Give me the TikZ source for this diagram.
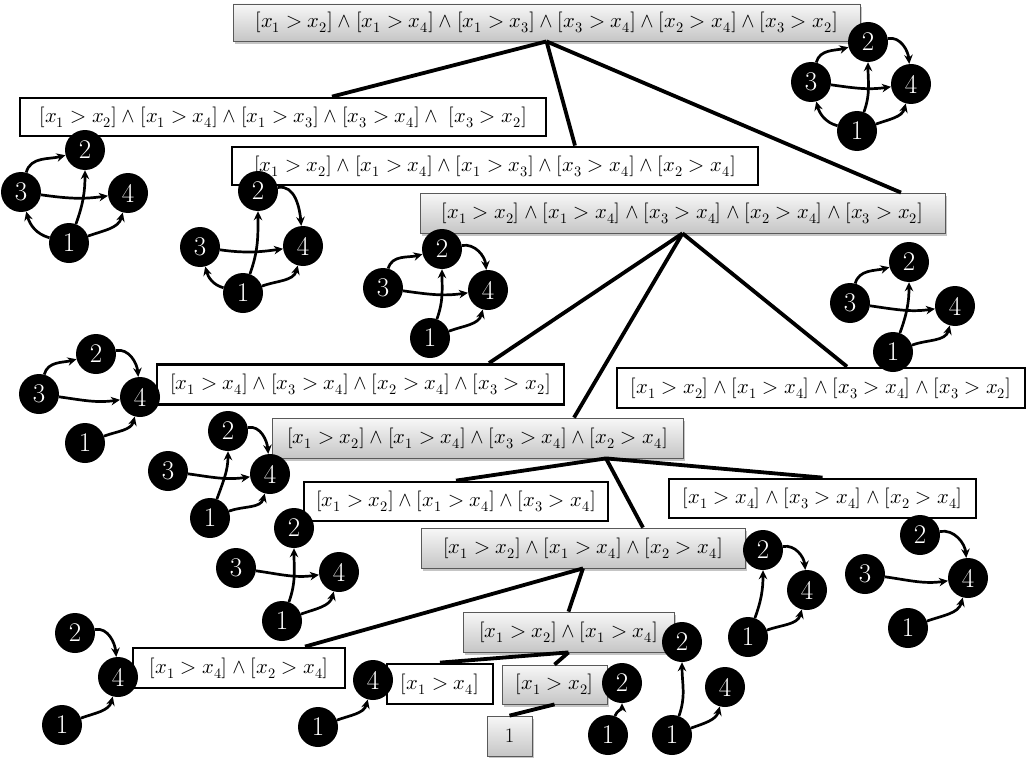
\documentclass[tikz,border=0pt]{standalone}
\usepackage{unicode-math}
\setmathfont{Latin Modern Math}
\usetikzlibrary{arrows.meta,shadows}
\newcommand\cls[2]{[x_{#1}>x_{#2}]}
\newcommand\an{\wedge}
\tikzset{
  bfont/.style={font=\fontsize{20.6}{24}\selectfont},
  wbox/.style={bfont, draw=black, line width=2.8pt, fill=white, inner sep=0pt},
  gbox/.style={bfont, draw=gray!70!black, line width=0.8pt, top color=gray!6, bottom color=gray!45,
               inner sep=0pt, drop shadow={shadow xshift=2pt, shadow yshift=-3pt, opacity=0.45}},
  vx/.style={circle, fill=black, text=white, minimum size=40pt, inner sep=0pt, font=\fontsize{27}{27}\selectfont},
  ar/.style={line width=2.7pt, -{Stealth[length=9pt,width=8.5pt]}},
  conn/.style={line width=3.8pt},
  e32/.style={out=75,in=195},
  e24/.style={out=10,in=95},
  e34/.style={out=-8,in=188},
  e12/.style={out=70,in=-90},
  e13/.style={out=165,in=-75},
  e14/.style={out=20,in=-105}
}
\begin{document}
\begin{tikzpicture}[x=1pt,y=1pt]
\useasboundingbox (0,0) rectangle (1027,-757);
\fill[white] (0,0) rectangle (1027,-757);

% ---------- boxes ----------
\node[gbox, minimum width=627pt, minimum height=37pt] (B0) at (546.5,-22.5) {$\cls12\an\cls14\an\cls13\an\cls34\an\cls24\an\cls32$};
\node[wbox, minimum width=526pt, minimum height=38pt] (B1) at (283,-117) {$\cls12\an\cls14\an\cls13\an\cls34\an\;\cls32$};
\node[wbox, minimum width=526pt, minimum height=38pt] (B2) at (495,-166) {$\cls12\an\cls14\an\cls13\an\cls34\an\cls24$};
\node[gbox, minimum width=525pt, minimum height=40pt] (B3) at (682.5,-213) {$\cls12\an\cls14\an\cls34\an\cls24\an\cls32$};
\node[wbox, minimum width=407pt, minimum height=40pt] (B4) at (360.5,-384.5) {$\cls14\an\cls34\an\cls24\an\cls32$};
\node[wbox, minimum width=408pt, minimum height=40pt] (B5) at (821,-388) {$\cls12\an\cls14\an\cls34\an\cls32$};
\node[gbox, minimum width=411pt, minimum height=40pt] (B6) at (477.5,-438) {$\cls12\an\cls14\an\cls34\an\cls24$};
\node[wbox, minimum width=304pt, minimum height=39pt] (B7) at (456,-501.5) {$\cls12\an\cls14\an\cls34$};
\node[gbox, minimum width=324pt, minimum height=40pt] (B8) at (583,-548) {$\cls12\an\cls14\an\cls24$};
\node[wbox, minimum width=307pt, minimum height=39pt] (B9) at (822.5,-498.5) {$\cls14\an\cls34\an\cls24$};
\node[wbox, minimum width=212pt, minimum height=40pt] (B10) at (239,-668) {$\cls14\an\cls24$};
\node[gbox, minimum width=211pt, minimum height=40pt] (B11) at (568.5,-632) {$\cls12\an\cls14$};
\node[wbox, minimum width=106pt, minimum height=40pt] (B12) at (440,-684) {$\cls14$};
\node[gbox, minimum width=105pt, minimum height=39pt] (B13) at (554.5,-684.5) {$\cls12$};
\node[gbox, minimum width=45pt, minimum height=40pt] (B14) at (509.5,-736) {1};

% ---------- tree connectors ----------
\draw[conn] (B0.south) -- ([xshift=49pt]B1.north);
\draw[conn] (B0.south) -- ([xshift=80pt]B2.north);
\draw[conn] (B0.south) -- ([xshift=218.5pt]B3.north);
\draw[conn] (B3.south) -- ([xshift=128.5pt]B4.north);
\draw[conn] (B3.south) -- ([xshift=96.5pt]B6.north);
\draw[conn] (B3.south) -- ([xshift=26pt]B5.north);
\draw[conn] ([xshift=128.5pt]B6.south) -- (B7.north);
\draw[conn] ([xshift=128.5pt]B6.south) -- ([xshift=60pt]B8.north);
\draw[conn] ([xshift=128.5pt]B6.south) -- (B9.north);
\draw[conn] (B8.south) -- ([xshift=66pt]B10.north);
\draw[conn] (B8.south) -- (B11.north);
\draw[conn] (B11.south) -- (B12.north);
\draw[conn] (B11.south) -- (B13.north);
\draw[conn] (B13.south) -- (B14.north);

% ---------- G0 ----------
\node[vx] (a1) at (857,-131) {1};
\node[vx] (a2) at (868,-42) {2};
\node[vx] (a3) at (811,-82) {3};
\node[vx] (a4) at (911,-84) {4};
\draw[ar] (a3) to[e32] (a2);
\draw[ar] (a2) to[e24] (a4);
\draw[ar] (a3) to[e34] (a4);
\draw[ar] (a1) to[e12] (a2);
\draw[ar] (a1) to[e13] (a3);
\draw[ar] (a1) to[e14] (a4);

% ---------- G1 ----------
\node[vx] (b1) at (69,-243) {1};
\node[vx] (b2) at (85,-150) {2};
\node[vx] (b3) at (21,-192) {3};
\node[vx] (b4) at (128,-193) {4};
\draw[ar] (b3) to[e32] (b2);
\draw[ar] (b3) to[e34] (b4);
\draw[ar] (b1) to[e12] (b2);
\draw[ar] (b1) to[e13] (b3);
\draw[ar] (b1) to[e14] (b4);

% ---------- G2 ----------
\node[vx] (c1) at (243,-293) {1};
\node[vx] (c2) at (258,-191) {2};
\node[vx] (c3) at (200,-247) {3};
\node[vx] (c4) at (303,-246) {4};
\draw[ar] (c2) to[e24] (c4);
\draw[ar] (c3) to[e34] (c4);
\draw[ar] (c1) to[e12] (c2);
\draw[ar] (c1) to[e13] (c3);
\draw[ar] (c1) to[e14] (c4);

% ---------- G3 ----------
\node[vx] (d1) at (430,-338) {1};
\node[vx] (d2) at (442,-249) {2};
\node[vx] (d3) at (383,-288) {3};
\node[vx] (d4) at (488,-290) {4};
\draw[ar] (d3) to[e32] (d2);
\draw[ar] (d2) to[e24] (d4);
\draw[ar] (d3) to[e34] (d4);
\draw[ar] (d1) to[e12] (d2);
\draw[ar] (d1) to[e14] (d4);

% ---------- G4 ----------
\node[vx] (f1) at (893,-352) {1};
\node[vx] (f2) at (909,-262) {2};
\node[vx] (f3) at (850,-303) {3};
\node[vx] (f4) at (955,-306) {4};
\draw[ar] (f3) to[e32] (f2);
\draw[ar] (f3) to[e34] (f4);
\draw[ar] (f1) to[e12] (f2);
\draw[ar] (f1) to[e14] (f4);

% ---------- G5 ----------
\node[vx] (g1) at (85,-443) {1};
\node[vx] (g2) at (96,-354) {2};
\node[vx] (g3) at (39,-394) {3};
\node[vx] (g4) at (140,-397) {4};
\draw[ar] (g3) to[e32] (g2);
\draw[ar] (g2) to[e24] (g4);
\draw[ar] (g3) to[e34] (g4);
\draw[ar] (g1) to[e14] (g4);

% ---------- G6 ----------
\node[vx] (h1) at (210,-518) {1};
\node[vx] (h2) at (228,-431) {2};
\node[vx] (h3) at (168,-471) {3};
\node[vx] (h4) at (270,-474) {4};
\draw[ar] (h2) to[e24] (h4);
\draw[ar] (h3) to[e34] (h4);
\draw[ar] (h1) to[e12] (h2);
\draw[ar] (h1) to[e14] (h4);

% ---------- G7 ----------
\node[vx] (k1) at (282,-621) {1};
\node[vx] (k2) at (294,-528) {2};
\node[vx] (k3) at (236,-568) {3};
\node[vx] (k4) at (339,-572) {4};
\draw[ar] (k3) to[e34] (k4);
\draw[ar] (k1) to[e12] (k2);
\draw[ar] (k1) to[e14] (k4);

% ---------- G8 ----------
\node[vx] (m1) at (748,-637) {1};
\node[vx] (m2) at (763,-550) {2};
\node[vx] (m4) at (807,-590) {4};
\draw[ar] (m2) to[e24] (m4);
\draw[ar] (m1) to[e12] (m2);
\draw[ar] (m1) to[e14] (m4);

% ---------- G9 ----------
\node[vx] (p1) at (908,-628) {1};
\node[vx] (p2) at (920,-535) {2};
\node[vx] (p3) at (865,-574) {3};
\node[vx] (p4) at (968,-578) {4};
\draw[ar] (p2) to[e24] (p4);
\draw[ar] (p3) to[e34] (p4);
\draw[ar] (p1) to[e14] (p4);

% ---------- G10 ----------
\node[vx] (q1) at (62,-725) {1};
\node[vx] (q2) at (75,-633) {2};
\node[vx] (q4) at (118,-677) {4};
\draw[ar] (q2) to[e24] (q4);
\draw[ar] (q1) to[e14] (q4);

% ---------- G11 ----------
\node[vx] (r1) at (318,-727) {1};
\node[vx] (r4) at (373,-680) {4};
\draw[ar] (r1) to[e14] (r4);

% ---------- G12 ----------
\node[vx] (s1) at (608,-735) {1};
\node[vx] (s2) at (622,-683) {2};
\draw[ar] (s1) to[e12] (s2);

% ---------- G13 ----------
\node[vx] (t1) at (672,-735) {1};
\node[vx] (t2) at (682,-642) {2};
\node[vx] (t4) at (725,-687) {4};
\draw[ar] (t1) to[e12] (t2);
\draw[ar] (t1) to[e14] (t4);
\end{tikzpicture}
\end{document}
